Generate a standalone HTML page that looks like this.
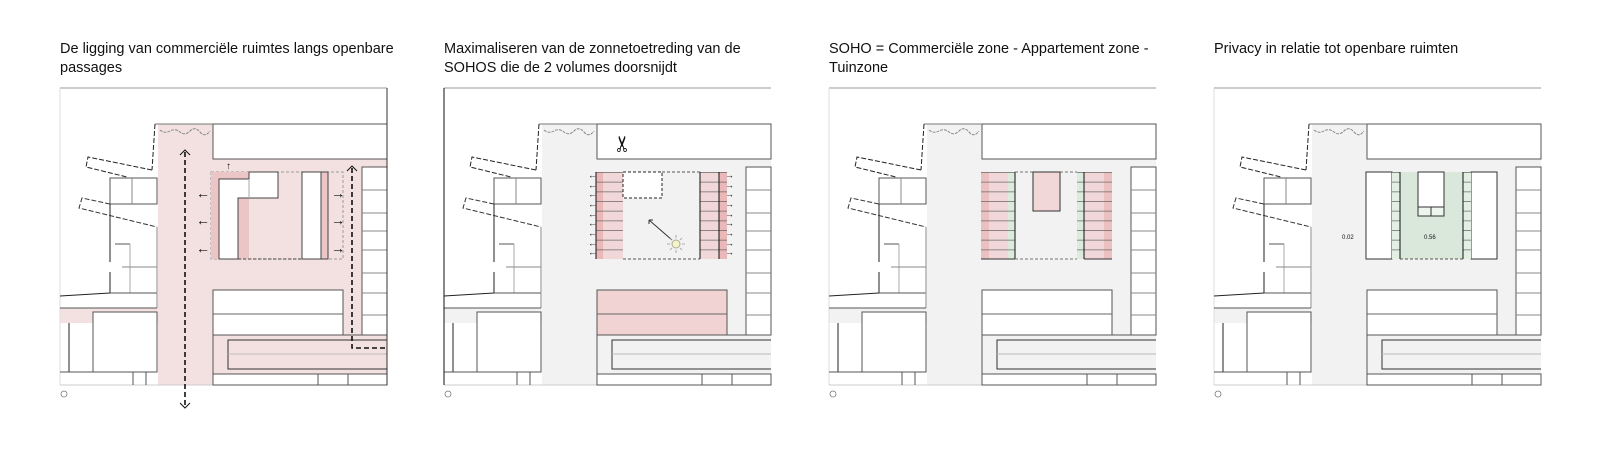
<!DOCTYPE html>
<html><head><meta charset="utf-8"><style>
html,body{margin:0;padding:0;background:#fff}
svg{display:block}
text{font-family:"Liberation Sans",sans-serif;fill:#111}
</style></head><body>
<svg width="1600" height="451" viewBox="0 0 1600 451" xmlns="http://www.w3.org/2000/svg">
<defs>
<pattern id="rows" x="0" y="172" width="20" height="9.67" patternUnits="userSpaceOnUse">
<line x1="0" y1="0.5" x2="20" y2="0.5" stroke="#666" stroke-width="0.8"/>
</pattern>
<g id="site">
<path d="M98,124 H153 V159 H327 V385 H98 Z"/>
<rect x="0" y="308" width="98" height="15"/>
</g>
<g id="base" fill="none" stroke="#555" stroke-width="1">
<line x1="0" y1="88" x2="327" y2="88" stroke="#999"/>
<line x1="0" y1="88" x2="0" y2="385" stroke="#ddd"/>
<line x1="0" y1="385" x2="327" y2="385" stroke="#ccc"/>
<rect x="153" y="124" width="174" height="35" fill="#fff"/>
<line x1="95" y1="124" x2="153" y2="124" stroke="#777"/>
<path d="M100,130 q5,4 10,1 t10,1 t10,-1 t10,1 t10,-1" stroke="#888" stroke-dasharray="3,1"/>
<line x1="95" y1="124" x2="92" y2="170" stroke="#222" stroke-dasharray="5,2"/>
<path d="M92,170 L28,157 L26,167 L67,177" stroke="#222" stroke-dasharray="5,2"/>
<line x1="67" y1="178" x2="97" y2="184" stroke="#777"/>
<path d="M50,204 L22,198 L19,208 L97,227" stroke="#333" stroke-dasharray="5,2"/>
<rect x="50" y="178" width="47" height="26" fill="#fff" stroke="#555"/>
<line x1="72" y1="178" x2="72" y2="204" stroke="#888"/>
<line x1="50" y1="204" x2="50" y2="262" stroke="#222"/>
<line x1="50" y1="272" x2="50" y2="293" stroke="#222"/>
<line x1="55" y1="244" x2="70" y2="244"/>
<line x1="70" y1="244" x2="70" y2="293" stroke="#aaa"/>
<line x1="62" y1="267" x2="97" y2="267" stroke="#888"/>
<line x1="0" y1="296" x2="50" y2="293" stroke="#222"/>
<line x1="50" y1="293" x2="97" y2="293"/>
<line x1="97" y1="227" x2="97" y2="308" stroke="#888"/>
<line x1="0" y1="308" x2="97" y2="308"/>
<rect x="33" y="312" width="64" height="60" fill="#fff"/>
<line x1="9" y1="323" x2="9" y2="372" stroke="#222"/>
<line x1="0" y1="372" x2="97" y2="372"/>
<line x1="73" y1="372" x2="73" y2="385"/>
<line x1="86" y1="372" x2="86" y2="385"/>
<rect x="302" y="167" width="25" height="168" fill="#fff"/>
<path d="M302,190 H327 M302,213 H327 M302,231 H327 M302,250 H327 M302,273 H327 M302,293 H327 M302,315 H327" stroke="#888"/>
<rect x="153" y="290" width="130" height="45" fill="#fff"/>
<line x1="153" y1="314" x2="283" y2="314" stroke="#666"/>
<line x1="153" y1="335" x2="327" y2="335"/>
<path d="M327,340 H168 V369 H327" stroke="#333"/>
<line x1="168" y1="354" x2="327" y2="354" stroke="#bbb"/>
<rect x="153" y="374" width="174" height="11" fill="#fff"/>
<line x1="258" y1="374" x2="258" y2="385"/>
<line x1="288" y1="374" x2="288" y2="385"/>
<line x1="153" y1="290" x2="153" y2="385"/>
<circle cx="4" cy="394" r="3" stroke="#777" stroke-width="0.8"/>
</g>
</defs>

<text x="60" y="53" font-size="14.5">De ligging van commerciële ruimtes langs openbare</text>
<text x="60" y="72" font-size="14.5">passages</text>
<text x="444" y="53" font-size="14.5">Maximaliseren van de zonnetoetreding van de</text>
<text x="444" y="72" font-size="14.5">SOHOS die de 2 volumes doorsnijdt</text>
<text x="829" y="53" font-size="14.5">SOHO = Commerciële zone - Appartement zone -</text>
<text x="829" y="72" font-size="14.5">Tuinzone</text>
<text x="1214" y="53" font-size="14.5">Privacy in relatie tot openbare ruimten</text>

<g transform="translate(60,0)">
<use href="#site" fill="#f3e1e1"/>
<use href="#base"/>
<line x1="327" y1="88" x2="327" y2="385" stroke="#333"/>
<rect x="151" y="172" width="132" height="87" fill="none" stroke="#999" stroke-dasharray="3,2"/>
<rect x="151" y="172" width="38" height="87" fill="#ecc6c6"/>
<path d="M159,179 H189 V172 H218 V198 H178 V259 H159 Z" fill="#fff" stroke="#444"/>
<line x1="189" y1="179" x2="189" y2="198" stroke="#aaa"/>
<rect x="242" y="172" width="19" height="87" fill="#fff" stroke="#444"/>
<rect x="261" y="172" width="7" height="87" fill="#ecc6c6" stroke="#444"/>
<line x1="178" y1="259" x2="242" y2="259" stroke="#444" stroke-dasharray="3,2"/>
<g fill="#333">
<text x="136" y="198" font-size="14">←</text><text x="136" y="225" font-size="14">←</text><text x="136" y="253" font-size="14">←</text>
<text x="271" y="198" font-size="14">→</text><text x="271" y="225" font-size="14">→</text><text x="271" y="253" font-size="14">→</text>
<text x="166" y="169" font-size="10">↑</text>
</g>
<g stroke="#111" stroke-width="1.6" fill="none">
<line x1="125" y1="152" x2="125" y2="405" stroke-dasharray="5,3"/>
<path d="M120,155 L125,150 L130,155 M120,403 L125,408 L130,403" stroke-width="1"/>
<path d="M292,168 V348 H327" stroke-dasharray="5,3"/>
<path d="M287,171 L292,166 L297,171" stroke-width="1"/>
</g>
</g>

<g transform="translate(444,0)">
<use href="#site" fill="#f2f2f2"/>
<use href="#base"/>
<line x1="0" y1="88" x2="0" y2="385" stroke="#111"/>
<rect x="152" y="172" width="27" height="87" fill="#f1d7d7"/>
<rect x="152" y="172" width="7" height="87" fill="#eab8b8"/>
<rect x="256" y="172" width="27" height="87" fill="#f1d7d7"/>
<rect x="275" y="172" width="8" height="87" fill="#eab8b8"/>
<rect x="152" y="172" width="27" height="87" fill="url(#rows)"/>
<rect x="256" y="172" width="27" height="87" fill="url(#rows)"/>
<line x1="152" y1="172" x2="152" y2="259" stroke="#111"/>
<line x1="256" y1="172" x2="256" y2="259" stroke="#111"/>
<line x1="275" y1="172" x2="275" y2="259" stroke="#111"/>
<rect x="179" y="172" width="39" height="26" fill="#fff" stroke="#222" stroke-dasharray="3,2"/>
<path d="M218,172 H256 M179,259 H256" stroke="#555" stroke-dasharray="3,2"/>
<g font-size="9" fill="#333">
<text x="144" y="178">←</text><text x="144" y="188">←</text><text x="144" y="197">←</text><text x="144" y="207">←</text><text x="144" y="217">←</text><text x="144" y="226">←</text><text x="144" y="236">←</text><text x="144" y="246">←</text><text x="144" y="255">←</text>
<text x="281" y="178">→</text><text x="281" y="188">→</text><text x="281" y="197">→</text><text x="281" y="207">→</text><text x="281" y="217">→</text><text x="281" y="226">→</text><text x="281" y="236">→</text><text x="281" y="246">→</text><text x="281" y="255">→</text>
</g>
<line x1="205" y1="220" x2="228" y2="240" stroke="#333"/>
<path d="M205,220 l4,0 M205,220 l0,4" stroke="#333"/>
<circle cx="232" cy="244" r="4" fill="#f5f3c8" stroke="#aa9"/>
<path d="M232,235 v3 M232,250 v3 M223,244 h3 M238,244 h3 M226,238 l2,2 M236,248 l2,2 M238,238 l-2,2 M226,250 l2,-2" stroke="#999" stroke-width="0.8"/>
<text transform="translate(179,143) rotate(-90)" x="-10" y="7" font-size="22" fill="#111">✂</text>
<rect x="153" y="290" width="130" height="45" fill="#f1d3d3" stroke="#555"/>
<line x1="153" y1="314" x2="283" y2="314" stroke="#666"/>
</g>

<g transform="translate(829,0)">
<use href="#site" fill="#f2f2f2"/>
<use href="#base"/>
<rect x="152" y="172" width="27" height="87" fill="#f1d7d7"/>
<rect x="152" y="172" width="8" height="87" fill="#ebc0c0"/>
<rect x="179" y="172" width="7" height="87" fill="#dcebdd"/>
<rect x="248" y="172" width="7" height="87" fill="#dcebdd"/>
<rect x="255" y="172" width="28" height="87" fill="#f1d7d7"/>
<rect x="275" y="172" width="8" height="87" fill="#ebc0c0"/>
<rect x="152" y="172" width="34" height="87" fill="url(#rows)"/>
<rect x="248" y="172" width="35" height="87" fill="url(#rows)"/>
<line x1="186" y1="172" x2="186" y2="259" stroke="#111"/>
<line x1="255" y1="172" x2="255" y2="259" stroke="#111"/>
<path d="M152,259 H186 M255,259 H283" stroke="#333"/>
<path d="M186,172 H248 M186,259 H248" stroke="#777" stroke-dasharray="3,2"/>
<rect x="204" y="172" width="27" height="39" fill="#f1d7d7" stroke="#333"/>
</g>

<g transform="translate(1214,0)">
<use href="#site" fill="#f2f2f2"/>
<use href="#base"/>
<rect x="152" y="172" width="26" height="87" fill="#fff" stroke="#333"/>
<rect x="257" y="172" width="26" height="87" fill="#fff" stroke="#333"/>
<rect x="178" y="172" width="79" height="87" fill="#d9e8da"/>
<rect x="178" y="172" width="8" height="87" fill="#e4efe4"/>
<rect x="249" y="172" width="8" height="87" fill="#e4efe4"/>
<rect x="178" y="172" width="8" height="87" fill="url(#rows)"/>
<rect x="249" y="172" width="8" height="87" fill="url(#rows)"/>
<line x1="186" y1="172" x2="186" y2="259" stroke="#111"/>
<line x1="249" y1="172" x2="249" y2="259" stroke="#111"/>
<line x1="186" y1="259" x2="249" y2="259" stroke="#555" stroke-dasharray="3,2"/>
<rect x="204" y="172" width="26" height="44" fill="#fff" stroke="#333"/>
<rect x="204" y="207" width="26" height="9" fill="#eef4ee" stroke="#333"/>
<line x1="217" y1="207" x2="217" y2="216" stroke="#333"/>
<text x="128" y="239" font-size="6" fill="#777">0.02</text>
<text x="210" y="239" font-size="6" fill="#777">0.56</text>
</g>
</svg>
</body></html>
